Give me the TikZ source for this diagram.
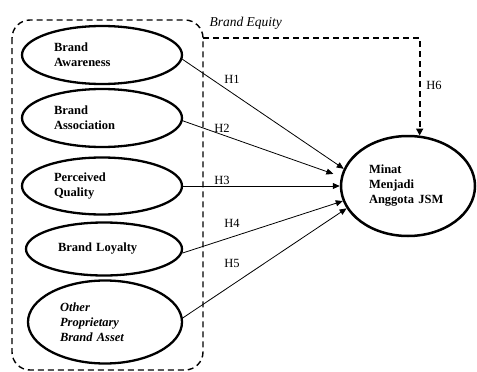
\documentclass[tikz,border=0pt]{standalone}
\usepackage{fontspec}
\setmainfont{Liberation Serif}
\usetikzlibrary{shapes.geometric,arrows.meta}
\begin{document}
\begin{tikzpicture}[x=1pt,y=-1pt,
  var/.style={ellipse,draw,line width=2.3pt,inner sep=0pt,align=left,
    font=\fontsize{12.5}{15}\selectfont\bfseries},
  hyp/.style={line width=0.8pt,-{Triangle[length=7pt,width=6pt]}},
  hlabel/.style={font=\fontsize{12.5}{15}\selectfont}]
 \useasboundingbox (0,0) rectangle (477,372);
 % dimensi brand equity
 \node[var,minimum width=160,minimum height=58,text width=96] (aw) at (102,55) {Brand\\Awareness};
 \node[var,minimum width=160,minimum height=58,text width=96] (as) at (102,118) {Brand\\Association};
 \node[var,minimum width=160,minimum height=57,text width=96] (pq) at (102,186) {Perceived\\Quality};
 \node[var,minimum width=156,minimum height=53,text width=92] (bl) at (104,249) {Brand Loyalty};
 \node[var,minimum width=154,minimum height=83,text width=90] (ob) at (105,322) {\itshape Other\\\itshape Proprietary\\\itshape Brand Asset};
 \node[var,minimum width=134,minimum height=100,text width=78,line width=2.5pt] (m) at (408,186) {Minat\\Menjadi\\Anggota JSM};
 % kotak brand equity
 \draw[line width=1.4pt,dash pattern=on 6pt off 4pt,rounded corners=18pt] (12,20) rectangle (203,370);
 \node[anchor=west,font=\fontsize{13.5}{16}\selectfont\itshape] (be) at (206,23) {Brand Equity};
 \coordinate (eqc) at (203,38);
 \draw[line width=1.8pt,dash pattern=on 6pt off 4pt,-{Triangle[length=7pt,width=7pt]}] (eqc) -- (eqc -| m.77) -- (m.77);
 % hipotesis
 \draw[hyp] (aw.-3) -- (m.165);
 \draw[hyp,shorten >=8pt] (as.-2) -- (m.172);
 \draw[hyp] (pq.east) -- (m.180);
 \draw[hyp] (bl.-3) -- (m.193);
 \draw[hyp] (ob.3) -- (m.200);
 \node[hlabel] (h1) at (232,79) {H1};
 \node[hlabel] (h2) at (222,128) {H2};
 \node[hlabel] (h3) at (222,180) {H3};
 \node[hlabel] (h4) at (232,223) {H4};
 \node[hlabel] (h5) at (232,263) {H5};
 \node[hlabel] (h6) at (434,85) {H6};
\end{tikzpicture}
\end{document}
